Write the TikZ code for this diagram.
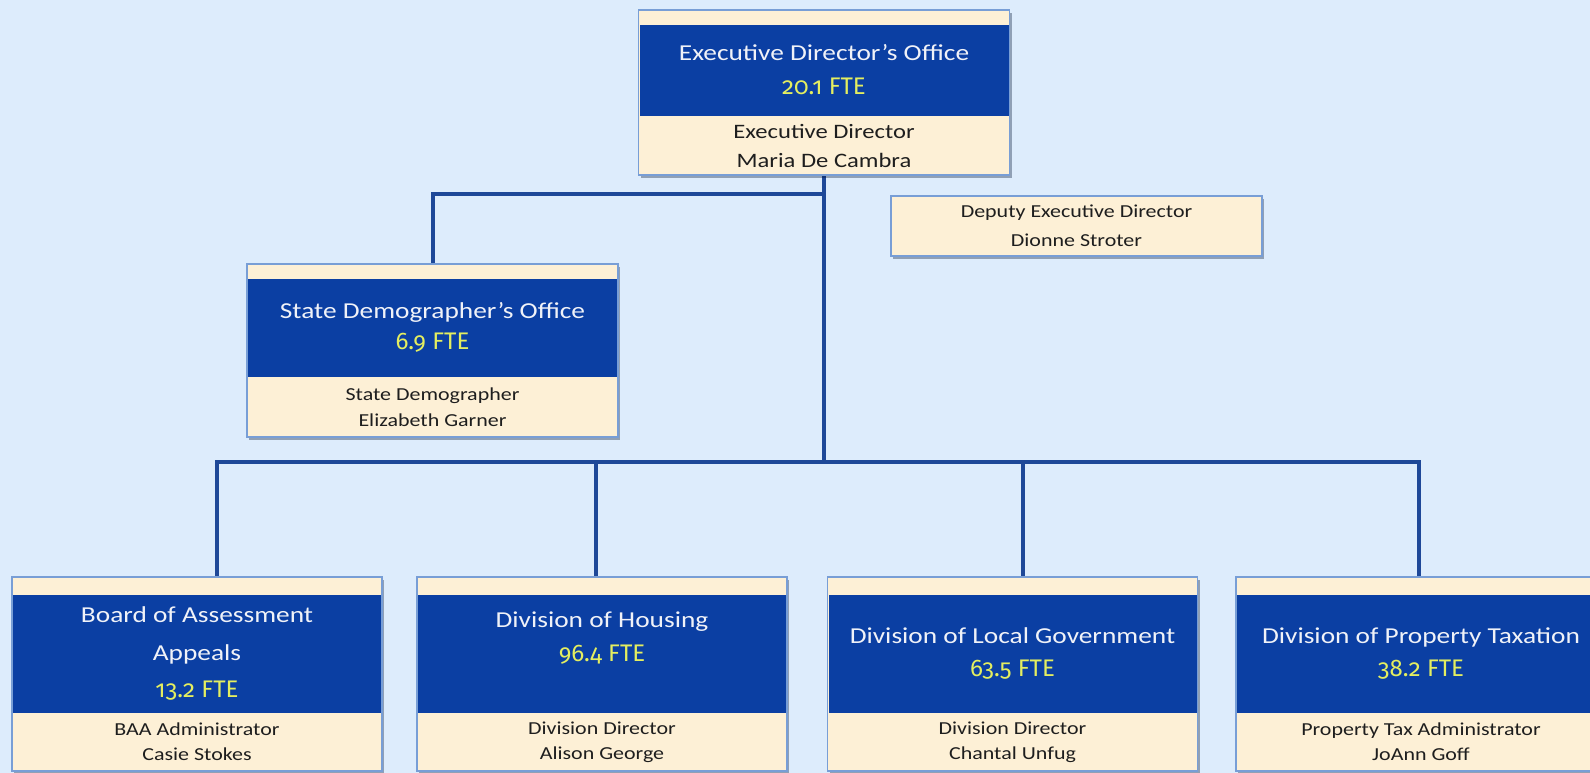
\documentclass[tikz,border=0pt]{standalone}
\usepackage{fontspec}
\setmainfont{Carlito}[FakeStretch=1.2]
\newfontfamily\ftefont{Fira Sans}[Numbers=OldStyle]
\usetikzlibrary{positioning,calc,backgrounds,shadows}

\definecolor{bgblue}{RGB}{221,236,252}
\definecolor{bandblue}{RGB}{11,63,163}
\definecolor{cream}{RGB}{253,240,214}
\definecolor{framecol}{RGB}{120,158,214}
\definecolor{linkblue}{RGB}{30,72,152}
\definecolor{fteyellow}{RGB}{228,238,96}
\definecolor{titlewhite}{RGB}{240,242,248}
\definecolor{inkdark}{RGB}{30,30,30}

\newcommand{\fte}[1]{{\ftefont\fontsize{24}{24}\selectfont\textcolor{fteyellow}{#1}}}

\tikzset{
    unitbox/.style={draw=framecol,line width=1.2pt,fill=cream,inner sep=0pt,
        drop shadow={shadow xshift=2pt,shadow yshift=-3pt,fill=black!70!bandblue,opacity=.35}},
    band/.style={fill=bandblue,inner sep=0pt,text=titlewhite,align=center,
        font=\fontsize{22.8}{34}\selectfont},
    headtxt/.style={text=inkdark,align=center,inner sep=0pt,font=\fontsize{18.3}{26}\selectfont},
    link/.style={draw=linkblue,line width=4pt}
}

\begin{document}
\begin{tikzpicture}[x=1pt,y=-1pt]
        % canvas
        \begin{scope}[on background layer]
        \fill[bgblue] (0,0) rectangle (1590,773);
        \end{scope}
        \useasboundingbox (0,0) rectangle (1590,773);

        % executive director's office
        \node[unitbox,minimum width=371pt,minimum height=165pt] (edo) at (824,92.5) {};
        \node[band,minimum width=369pt,minimum height=91pt,below=15pt of edo.north] (edo-t) {Executive Director’s Office\\\fte{20.1 FTE}};
        \node[headtxt,font=\fontsize{20.5}{29}\selectfont] (edo-h) at ($(edo-t.south)!.5!(edo.south)$) {Executive Director\\Maria De Cambra};

        % deputy
        \node[unitbox,minimum width=371pt,minimum height=60pt] (dep) at (1076.5,226) {};
        \node[headtxt,font=\fontsize{18.3}{29}\selectfont] (dep-h) at (dep.center) {Deputy Executive Director\\Dionne Stroter};

        % state demographer's office
        \node[unitbox,minimum width=371pt,minimum height=173pt] (sdo) at (432.5,350.5) {};
        \node[band,minimum width=369pt,minimum height=98pt,below=15pt of sdo.north,font=\fontsize{22.8}{31}\selectfont] (sdo-t) {State Demographer’s Office\\\fte{6.9 FTE}};
        \node[headtxt] (sdo-h) at ($(sdo-t.south)!.5!(sdo.south)$) {State Demographer\\Elizabeth Garner};

        % divisions
        \node[unitbox,minimum width=370pt,minimum height=194pt] (baa) at (197,674) {};
        \node[band,minimum width=368pt,minimum height=118pt,below=18pt of baa.north] (baa-t) {Board of Assessment\\[3.5pt]Appeals\\[3.5pt]\fte{13.2 FTE}};
        \node[headtxt,font=\fontsize{18.3}{25}\selectfont] (baa-h) at ($(baa-t.south)!.5!(baa.south)$) {BAA Administrator\\Casie Stokes};

        \node[unitbox,minimum width=370pt,minimum height=194pt] (doh) at (602,674) {};
        \node[band,minimum width=368pt,minimum height=118pt,below=18pt of doh.north] (doh-t) {Division of Housing\\\fte{96.4 FTE}\\\mbox{}};
        \node[headtxt,font=\fontsize{18.3}{25}\selectfont] (doh-h) at ($(doh-t.south)!.5!(doh.south)$) {Division Director\\Alison George};

        \node[unitbox,minimum width=370pt,minimum height=194pt] (dlg) at (1012.5,674) {};
        \node[band,minimum width=368pt,minimum height=118pt,below=18pt of dlg.north,font=\fontsize{22.8}{33}\selectfont] (dlg-t) {Division of Local Government\\\fte{63.5 FTE}};
        \node[headtxt,font=\fontsize{18.3}{25}\selectfont] (dlg-h) at ($(dlg-t.south)!.5!(dlg.south)$) {Division Director\\Chantal Unfug};

        \node[unitbox,minimum width=370pt,minimum height=194pt] (dpt) at (1421,674) {};
        \node[band,minimum width=368pt,minimum height=118pt,below=18pt of dpt.north,font=\fontsize{22.8}{33}\selectfont] (dpt-t) {Division of Property Taxation\\\fte{38.2 FTE}};
        \node[headtxt,font=\fontsize{18.3}{25}\selectfont] (dpt-h) at ($(dpt-t.south)!.5!(dpt.south)$) {Property Tax Administrator\\JoAnn Goff};

        % lines
        \coordinate (br) at (edo.south |- 0,194);
        \coordinate (bus) at (edo.south |- 0,462);
        \begin{scope}[on background layer]
        \draw[link] (edo.south) -- (bus);
        \draw[link] (br) -| (sdo.north);
        \draw[link] ([xshift=20pt]baa.north) |- (bus) -| ([xshift=-2pt]dpt.north);
        \draw[link] ([xshift=-6pt]doh.north) |- (bus);
        \draw[link] ([xshift=10.5pt]dlg.north) |- (bus);
        \end{scope}
\end{tikzpicture}
\end{document}
